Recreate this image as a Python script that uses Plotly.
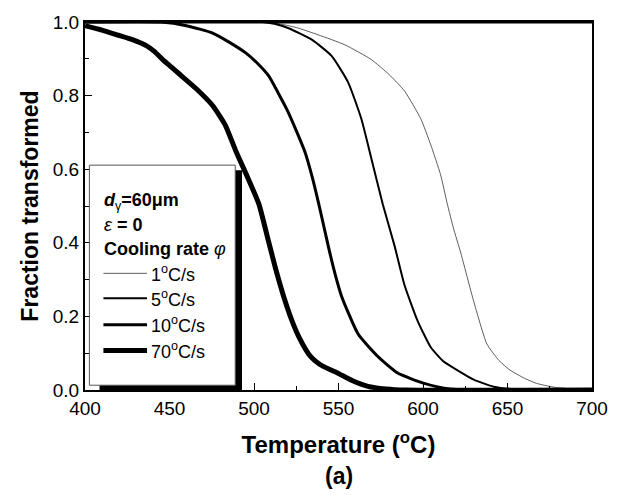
import plotly.graph_objects as go

# ---- data ----
T_1 = [400, 505, 515, 525, 538.1, 553.8, 569.4, 580, 589, 598.7, 604.6, 610.4, 614.4, 618, 622.2,
       630, 637.8, 645, 651.5, 660, 667.2, 677, 688, 700]
F_1 = [1.0, 1.0, 0.995, 0.985, 0.965, 0.938, 0.898, 0.857, 0.813, 0.737, 0.666, 0.585, 0.505, 0.44,
       0.375, 0.241, 0.125, 0.08, 0.054, 0.032, 0.018, 0.008, 0.003, 0.001]

T_5 = [400, 505, 512, 520.5, 534.2, 545.9, 555.7, 563.5, 569.4, 576.2, 583.1, 589.0, 596.8, 604.6,
       612, 620.2, 630, 641.8, 655, 700]
F_5 = [1.0, 1.0, 0.995, 0.983, 0.952, 0.908, 0.836, 0.737, 0.630, 0.505, 0.393, 0.286, 0.188, 0.116,
       0.078, 0.054, 0.028, 0.009, 0.002, 0.0]

T_10 = [400, 445, 460, 475.5, 485, 495.1, 502, 508.8, 514, 519.5, 525, 530.3, 534.5, 538.1, 541.3,
        544.5, 548, 551.8, 561.6, 573.3, 585, 600.7, 616, 700]
F_10 = [1.0, 1.0, 0.99, 0.970, 0.946, 0.916, 0.888, 0.853, 0.81, 0.762, 0.705, 0.645, 0.578, 0.510,
        0.445, 0.380, 0.315, 0.255, 0.152, 0.091, 0.046, 0.018, 0.003, 0.0]

T_70 = [400, 410, 419, 428, 436.5, 441, 446, 451, 456, 466, 475.5, 483, 489.3, 496, 502.9, 508,
        512.7, 517.5, 522.5, 527, 532.3, 536, 541, 549.9, 558, 567.4, 578, 590, 700]
F_70 = [0.99, 0.978, 0.965, 0.952, 0.935, 0.92, 0.898, 0.878, 0.858, 0.818, 0.773, 0.72, 0.649, 0.58,
        0.505, 0.415, 0.331, 0.255, 0.188, 0.14, 0.098, 0.08, 0.064, 0.045, 0.026, 0.01, 0.003, 0.0, 0.0]

series_labels = ["1<sup>o</sup>C/s", "5<sup>o</sup>C/s", "10<sup>o</sup>C/s", "70<sup>o</sup>C/s"]
x_ticks = [400, 450, 500, 550, 600, 650, 700]
y_ticks = [0.0, 0.2, 0.4, 0.6, 0.8, 1.0]

FONT = "Liberation Sans, Arial, sans-serif"
widths = [0.8, 2.0, 3.0, 5.0]
colors = ["#333333", "black", "black", "black"]

fig = go.Figure()
for T, F, w, c in zip([T_1, T_5, T_10, T_70], [F_1, F_5, F_10, F_70], widths, colors):
    fig.add_trace(go.Scatter(x=T, y=F, mode="lines", line=dict(color=c, width=w, shape="spline", smoothing=0.5),
                             showlegend=False, hoverinfo="skip"))

# thicker top frame line as in the reference
fig.add_shape(type="line", xref="paper", yref="paper", x0=0, x1=1, y0=1, y1=1,
              line=dict(color="black", width=3), layer="above")

# ---- legend box with drop shadow ----
bx0, bx1, by0, by1 = 402.6, 488.9, 0.013, 0.611
fig.add_shape(type="rect", xref="x", yref="y", x0=bx0 + 6, x1=bx1 + 4, y0=-0.01, y1=by1 - 0.014,
              fillcolor="black", line=dict(width=0), layer="above")
fig.add_shape(type="rect", xref="x", yref="y", x0=bx0, x1=bx1, y0=by0, y1=by1,
              fillcolor="white", line=dict(color="#555555", width=1), layer="above")

tx = 409.9
header = [("<b><i>d</i></b><sub>γ</sub><b>=60μm</b>", 0.512),
          ("<i>ε</i><b> = 0</b>", 0.449),
          ("<b>Cooling rate </b><i>φ</i>", 0.384)]
for txt, yy in header:
    fig.add_annotation(x=tx, y=yy, xref="x", yref="y", text=txt, showarrow=False, xanchor="left",
                       yanchor="middle", font=dict(family=FONT, size=18, color="black"))

rows_y = [0.317, 0.249, 0.177, 0.107]
for lab, yy, w, c in zip(series_labels, rows_y, widths, colors):
    fig.add_shape(type="line", xref="x", yref="y", x0=410.9, x1=436.7, y0=yy, y1=yy,
                  line=dict(color=c, width=w), layer="above")
    fig.add_annotation(x=437.8, y=yy, xref="x", yref="y", text=lab, showarrow=False, xanchor="left",
                       yanchor="middle", font=dict(family=FONT, size=18, color="black"))

# ---- panel label ----
fig.add_annotation(x=0.5, y=-0.235, xref="paper", yref="paper", text="<b>(a)</b>", showarrow=False,
                   xanchor="center", yanchor="middle", font=dict(family=FONT, size=23, color="black"))

axis_common = dict(showline=True, linecolor="black", linewidth=2, mirror=True, showgrid=False,
                   zeroline=False, ticks="inside", ticklen=7, tickwidth=1.2, tickcolor="black",
                   tickfont=dict(family=FONT, size=19, color="black"))

fig.update_xaxes(range=[400, 700], tickvals=x_ticks, ticktext=[str(v) for v in x_ticks],
                 minor=dict(ticks="inside", ticklen=4, tickwidth=1.2, tickcolor="black", dtick=25, showgrid=False),
                 title=dict(text="<b>Temperature (<sup>o</sup>C)</b>", font=dict(family=FONT, size=24, color="black"),
                            standoff=18),
                 **axis_common)
fig.update_yaxes(range=[0, 1.0], tickvals=y_ticks, ticktext=[f"{v:.1f}" for v in y_ticks],
                 minor=dict(ticks="inside", ticklen=4, tickwidth=1.2, tickcolor="black", dtick=0.1, showgrid=False),
                 title=dict(text="<b>Fraction transformed</b>", font=dict(family=FONT, size=23, color="black"),
                            standoff=8),
                 **axis_common)

fig.update_layout(width=620, height=495, margin=dict(l=84.5, r=24.5, t=17, b=105),
                  paper_bgcolor="white", plot_bgcolor="white", font=dict(family=FONT, color="black"))

fig.write_html("out.html")
